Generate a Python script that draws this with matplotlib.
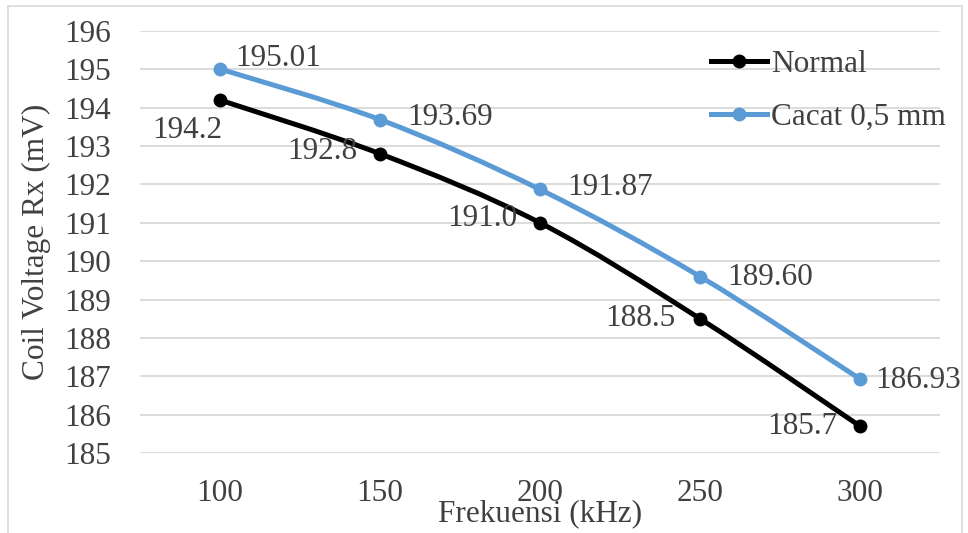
import numpy as np
import matplotlib
matplotlib.use('Agg')
import matplotlib.pyplot as plt
from matplotlib.path import Path
from matplotlib.patches import PathPatch, Rectangle
from matplotlib.lines import Line2D

plt.rcParams['font.family'] = ['Liberation Serif', 'DejaVu Serif']

# data
freq = ['100', '150', '200', '250', '300']
normal = [194.2, 192.8, 191.0, 188.5, 185.7]
normal_lbl = ['194.2', '192.8', '191.0', '188.5', '185.7']
cacat = [195.01, 193.69, 191.87, 189.60, 186.93]
cacat_lbl = ['195.01', '193.69', '191.87', '189.60', '186.93']

# label offsets (pixels)
off_normal = [(2, -30), (-23, 2), (-23, 4), (-24, 0), (-23, 0)]
off_cacat = [(15, 10), (27, 2), (27, 2), (27, -1), (15, -2)]

W, H, DPI = 968, 533, 100
fig = plt.figure(figsize=(W / DPI, H / DPI), dpi=DPI)
txt = '#404040'
fs = 22.5

# outer border
fig.patches.append(Rectangle((8 / W, -0.05), 954 / W, 1.05 - 6 / H, transform=fig.transFigure,
                             fill=False, ec='#d9d9d9', lw=1.2))

ax = fig.add_axes([140 / W, 1 - 453 / H, 800 / W, 422 / H])
ax.set_xlim(-0.5, len(freq) - 0.5)
ax.set_ylim(185, 196)
ax.set_yticks(np.arange(185, 197, 1))
ax.set_xticks(range(len(freq)))
ax.set_xticklabels(freq)
for s in ax.spines.values():
    s.set_visible(False)
ax.tick_params(length=0, labelsize=fs, labelcolor=txt)
ax.tick_params(axis='y', pad=21)
ax.tick_params(axis='x', pad=19)
ax.grid(axis='y', color='#d9d9d9', lw=1.3)
ax.set_axisbelow(True)


def smooth_path(x, y):
    # Excel-like smoothed line: cubic bezier with tension 1/6
    x = np.asarray(x, float)
    y = np.asarray(y, float)
    n = len(x)
    verts = [(x[0], y[0])]
    codes = [Path.MOVETO]
    for i in range(n - 1):
        p0 = np.array([x[max(i - 1, 0)], y[max(i - 1, 0)]])
        p1 = np.array([x[i], y[i]])
        p2 = np.array([x[i + 1], y[i + 1]])
        p3 = np.array([x[min(i + 2, n - 1)], y[min(i + 2, n - 1)]])
        c1 = p1 + (p2 - p0) / 6
        c2 = p2 - (p3 - p1) / 6
        verts += [tuple(c1), tuple(c2), tuple(p2)]
        codes += [Path.CURVE4] * 3
    return Path(verts, codes)


xs = np.arange(len(freq))
series = [(normal, normal_lbl, off_normal, 'black', 'Normal', 'right'),
          (cacat, cacat_lbl, off_cacat, '#5B9BD5', 'Cacat 0,5 mm', 'left')]
handles = []
for vals, lbls, offs, col, name, ha in series:
    ax.add_patch(PathPatch(smooth_path(xs, vals), fc='none', ec=col, lw=3.6,
                           capstyle='round', joinstyle='round', zorder=3))
    ax.plot(xs, vals, ls='none', marker='o', ms=9, color=col, zorder=4)
    for xi, v, l, (dx, dy) in zip(xs, vals, lbls, offs):
        ax.annotate(l, (xi, v), xytext=(dx, dy), textcoords='offset pixels',
                    ha=ha, va='center', fontsize=fs, color=txt, zorder=5)
    handles.append(Line2D([], [], color=col, lw=3.6, marker='o', ms=9, label=name))

leg = fig.legend(handles=handles, loc='upper left', bbox_to_anchor=(711 / W, 1 - 50 / H),
                 frameon=False, fontsize=fs, handlelength=1.8, handletextpad=0.12,
                 labelspacing=0.75, borderpad=0, borderaxespad=0, markerscale=1)
for t in leg.get_texts():
    t.set_color(txt)

fig.text(540 / W, 1 - 514 / H, 'Frekuensi (kHz)', ha='center', va='center',
         fontsize=fs, color=txt)
fig.text(36 / W, 1 - 242 / H, 'Coil Voltage Rx (mV)', ha='center', va='center',
         rotation=90, fontsize=fs, color=txt)

fig.savefig('out.png', dpi=DPI)
